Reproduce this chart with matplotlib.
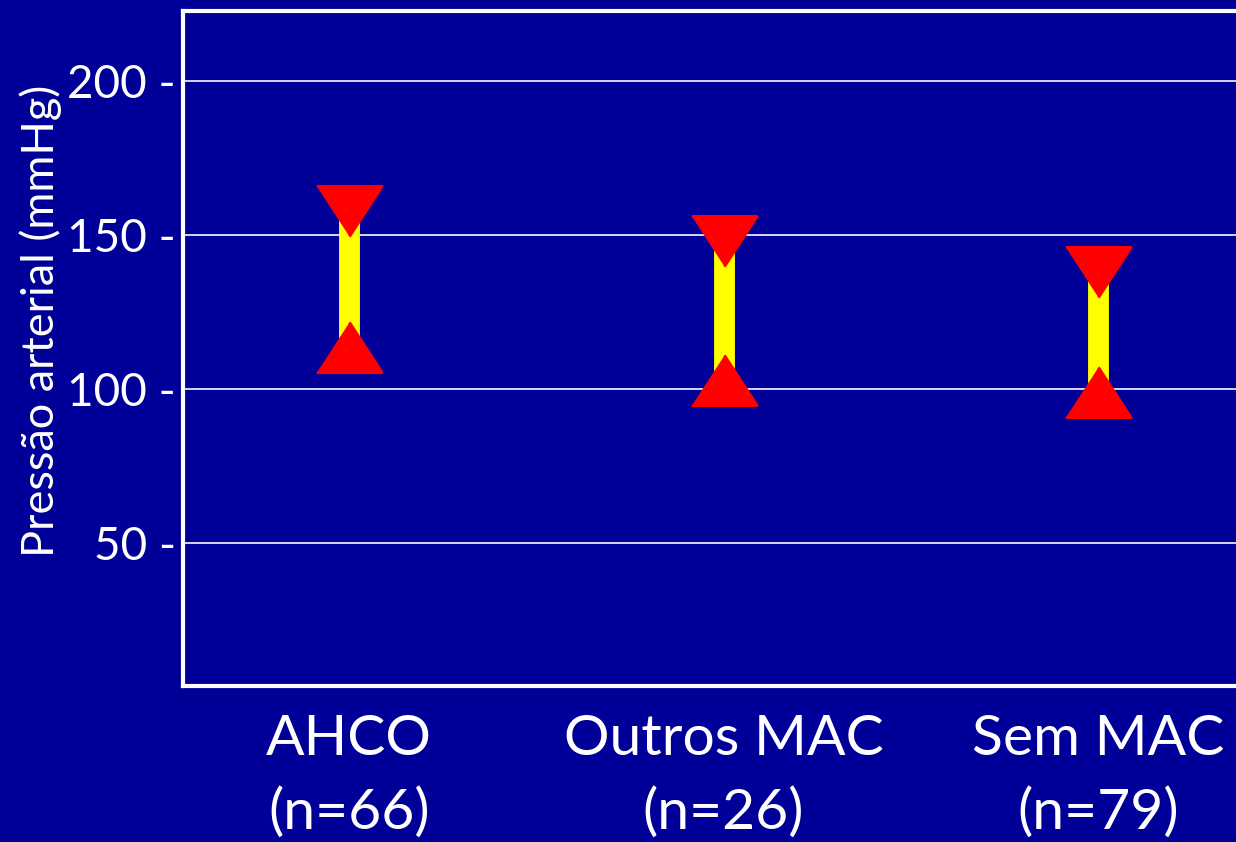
import numpy as np
import matplotlib
matplotlib.use("Agg")
import matplotlib.pyplot as plt

plt.rcParams['font.family'] = ['Lato', 'DejaVu Sans']

# data
groups = ["AHCO\n(n=66)", "Outros MAC\n(n=26)", "Sem MAC\n(n=79)"]
upper = [157.7, 148.2, 138.1]
lower = [113.8, 103.1, 99.2]
yticks = [50, 100, 150, 200]

bg = "#000099"
x = np.arange(len(groups))

fig = plt.figure(figsize=(12.36, 8.42), dpi=100, facecolor=bg)
ax = fig.add_axes([0.148, 0.185, 0.852, 0.8025], facecolor=bg)

for v in yticks:
    ax.axhline(v, color="#e6e6f0", lw=1.3, zorder=1)

ax.vlines(x, lower, upper, color="#ffff00", lw=15, zorder=2)

tri_down = [(-1, 0.77), (1, 0.77), (0, -0.77)]
tri_up = [(-1, -0.77), (1, -0.77), (0, 0.77)]
ax.plot(x, upper, ls="none", marker=tri_down, ms=47, color="#ff0000",
        mec="#ff0000", mew=2, zorder=3)
ax.plot(x, lower, ls="none", marker=tri_up, ms=47, color="#ff0000",
        mec="#ff0000", mew=2, zorder=3)

ax.set_xlim(-0.443, 2.368)
ax.set_ylim(3.6, 222.9)

ax.set_yticks(yticks)
ax.set_yticklabels([f"{v} -" for v in yticks], fontsize=33, color="white")
ax.set_xticks(x)
ax.set_xticklabels(groups, fontsize=41, color="white", linespacing=1.52)
ax.tick_params(axis="y", length=0, pad=5)
ax.tick_params(axis="x", length=0, pad=20)

ax.set_ylabel("Pressão arterial (mmHg)", fontsize=32.5, color="white")
ax.yaxis.set_label_coords(-0.115, 0.54)

for s in ["left", "bottom", "top"]:
    ax.spines[s].set_color("white")
    ax.spines[s].set_linewidth(3)
ax.spines["right"].set_visible(False)

fig.savefig("out.png", dpi=100, facecolor=bg)
